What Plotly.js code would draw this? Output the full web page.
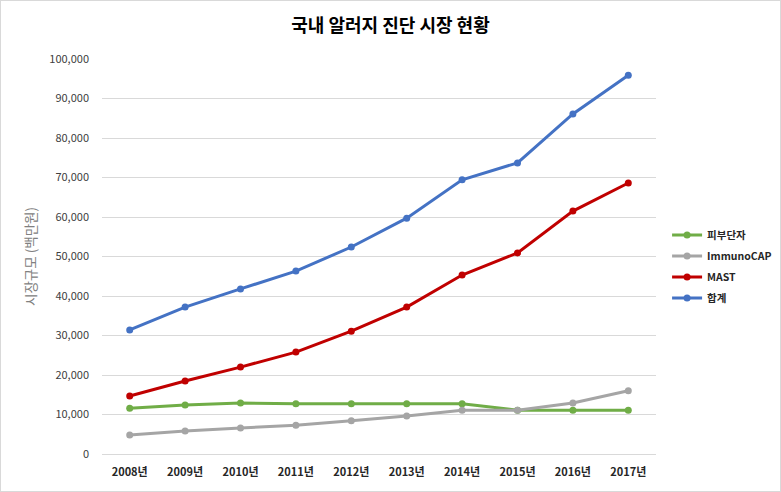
<!DOCTYPE html>
<html>
<head>
<meta charset="utf-8">
<script src="https://cdn.plot.ly/plotly-3.0.1.min.js"></script>
<style>
  body { margin: 0; background: #fff; }
  #plot { width: 781px; height: 492px; box-sizing: border-box; border: 1px solid #d9d9d9; }
</style>
</head>
<body>
<div id="plot"></div>
<script>
// 국내 알러지 진단 시장 현황 (단위: 백만원)
let years = ["2008년", "2009년", "2010년", "2011년", "2012년", "2013년", "2014년", "2015년", "2016년", "2017년"];
let skinTest = [11600, 12400, 12900, 12700, 12700, 12700, 12700, 11100, 11100, 11100];
let immunoCap = [4800, 5800, 6600, 7300, 8400, 9600, 11100, 11100, 12900, 16000];
let mast = [14700, 18500, 22000, 25800, 31100, 37200, 45300, 50900, 61500, 68600];
let total = [31400, 37200, 41800, 46300, 52400, 59700, 69400, 73700, 86100, 95900];

const korFont = "'Malgun Gothic', 'Noto Sans CJK KR', sans-serif";

function line(name, y, color) {
    return {
        x: years,
        y: y,
        name: name,
        legendgroup: name,
        type: "scatter",
        mode: "lines+markers",
        line: {color: color, width: 3},
        marker: {color: color, size: 7}
    };
}

let data = [
    line("피부단자", skinTest, "#70ad47"),
    line("ImmunoCAP", immunoCap, "#a5a5a5"),
    line("MAST", mast, "#c00000"),
    line("합계", total, "#4472c4")
];

let layout = {
    width: 779,
    height: 490,
    margin: {l: 101, r: 124, t: 58, b: 37, autoexpand: false},
    paper_bgcolor: "#ffffff",
    plot_bgcolor: "#ffffff",
    font: {family: korFont, size: 11, color: "#404040"},
    title: {
        text: "<b>국내 알러지 진단 시장 현황</b>",
        font: {family: korFont, size: 18, color: "#000000"},
        x: 0.5,
        xanchor: "center",
        y: 0.95,
        yanchor: "middle"
    },
    xaxis: {
        type: "category",
        range: [-0.5, years.length - 0.5],
        automargin: false,
        showgrid: false,
        showline: false,
        zeroline: false,
        ticks: "",
        ticklabelstandoff: 10,
        tickfont: {family: korFont, size: 11, color: "#262626", weight: "bold"}
    },
    yaxis: {
        range: [0, 100000],
        dtick: 10000,
        tickformat: ",d",
        automargin: false,
        showgrid: true,
        gridcolor: "#d9d9d9",
        gridwidth: 1,
        zeroline: true,
        zerolinecolor: "#d9d9d9",
        showline: false,
        ticks: "",
        ticklabelstandoff: 12,
        tickfont: {family: korFont, size: 11, color: "#404040"},
        title: {
            text: "시장규모 (백만원)",
            standoff: 9,
            font: {family: korFont, size: 13.5, color: "#808080"}
        }
    },
    legend: {
        x: 1.02,
        xanchor: "left",
        y: 0.475,
        yanchor: "middle",
        font: {family: korFont, size: 10.5, color: "#262626", weight: "bold"},
        tracegroupgap: 2,
        itemwidth: 30,
        bgcolor: "rgba(0,0,0,0)"
    },
    showlegend: true
};

Plotly.newPlot("plot", data, layout, {displayModeBar: false});
</script>
</body>
</html>
